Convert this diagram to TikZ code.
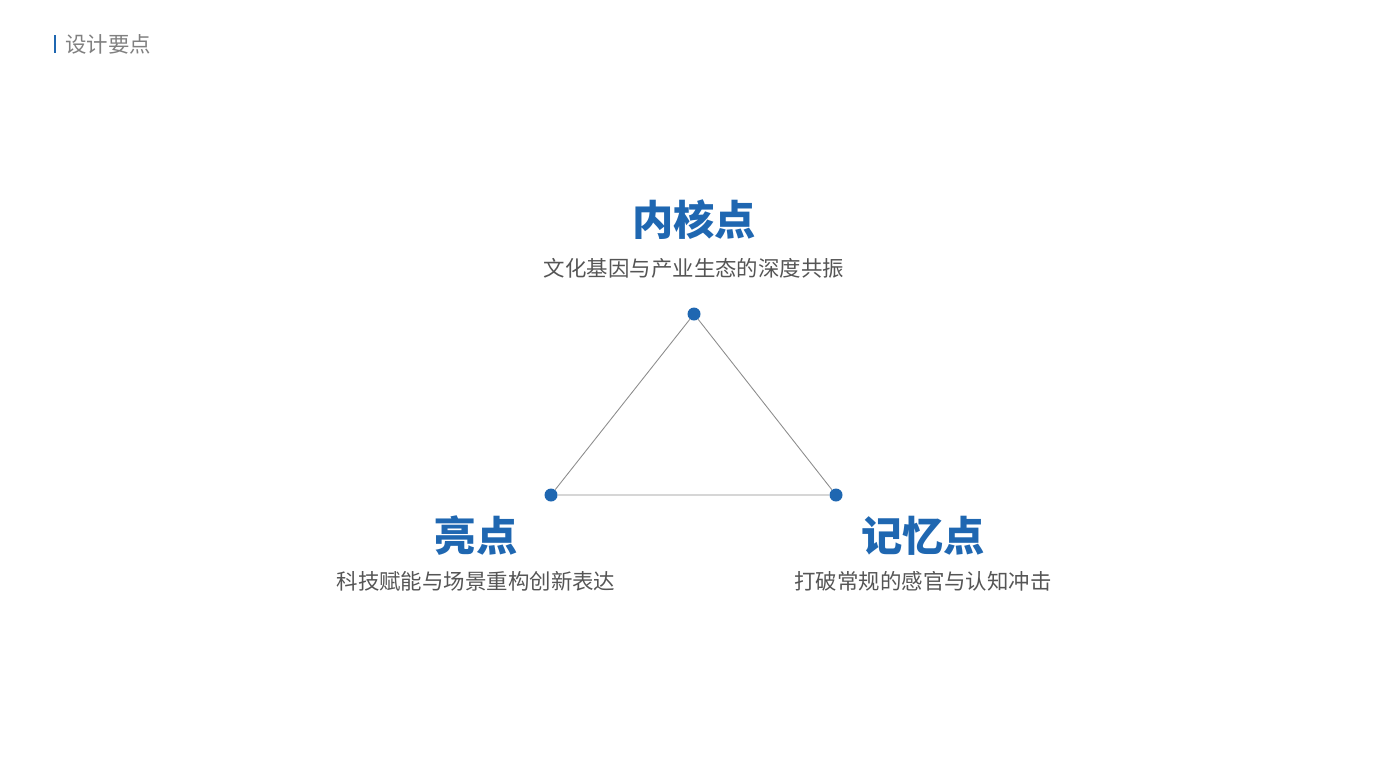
\documentclass[tikz,border=0pt]{standalone}
\usepackage{fontspec}
\newfontfamily\cjk{Noto Sans CJK SC}
\definecolor{pointblue}{HTML}{1F67B1}
\definecolor{subgray}{HTML}{555555}
\definecolor{linegray}{HTML}{8C8C8C}
\begin{document}
\begin{tikzpicture}[x=0.02cm, y=-0.02cm,
		dot/.style={circle, fill=pointblue, inner sep=0pt, minimum size=0.26cm},
		title/.style={inner sep=0pt, text=pointblue, font=\cjk\bfseries\fontsize{23.5pt}{28pt}\selectfont},
		subtitle/.style={inner sep=0pt, text=subgray, font=\cjk\fontsize{12.2pt}{15pt}\selectfont},
		edge/.style={draw=linegray, line width=0.5pt}]
	\useasboundingbox (0,0) rectangle (1389,782);
	\fill[pointblue] (53.5,35) rectangle (56,53);
	\node[inner sep=0pt, anchor=west, text=gray, font=\cjk\fontsize{12.2pt}{15pt}\selectfont] (Head) at (65,44) {设计要点};
		\node[dot] (Core) at (694,314) {};
		\node[dot] (Shine) at (551,495) {};
		\node[dot] (Memo) at (836,495) {};
		\draw[edge] (Core) -- (Shine) -- (Memo) -- (Core);
		\node[title] (CoreT) at (694,220) {内核点};
		\node[subtitle] (CoreS) at (694,268) {文化基因与产业生态的深度共振};
		\node[title] (ShineT) at (476,536) {亮点};
		\node[subtitle] (ShineS) at (476,581) {科技赋能与场景重构创新表达};
		\node[title] (MemoT) at (923,536) {记忆点};
		\node[subtitle] (MemoS) at (923,581) {打破常规的感官与认知冲击};
\end{tikzpicture}
\end{document}
